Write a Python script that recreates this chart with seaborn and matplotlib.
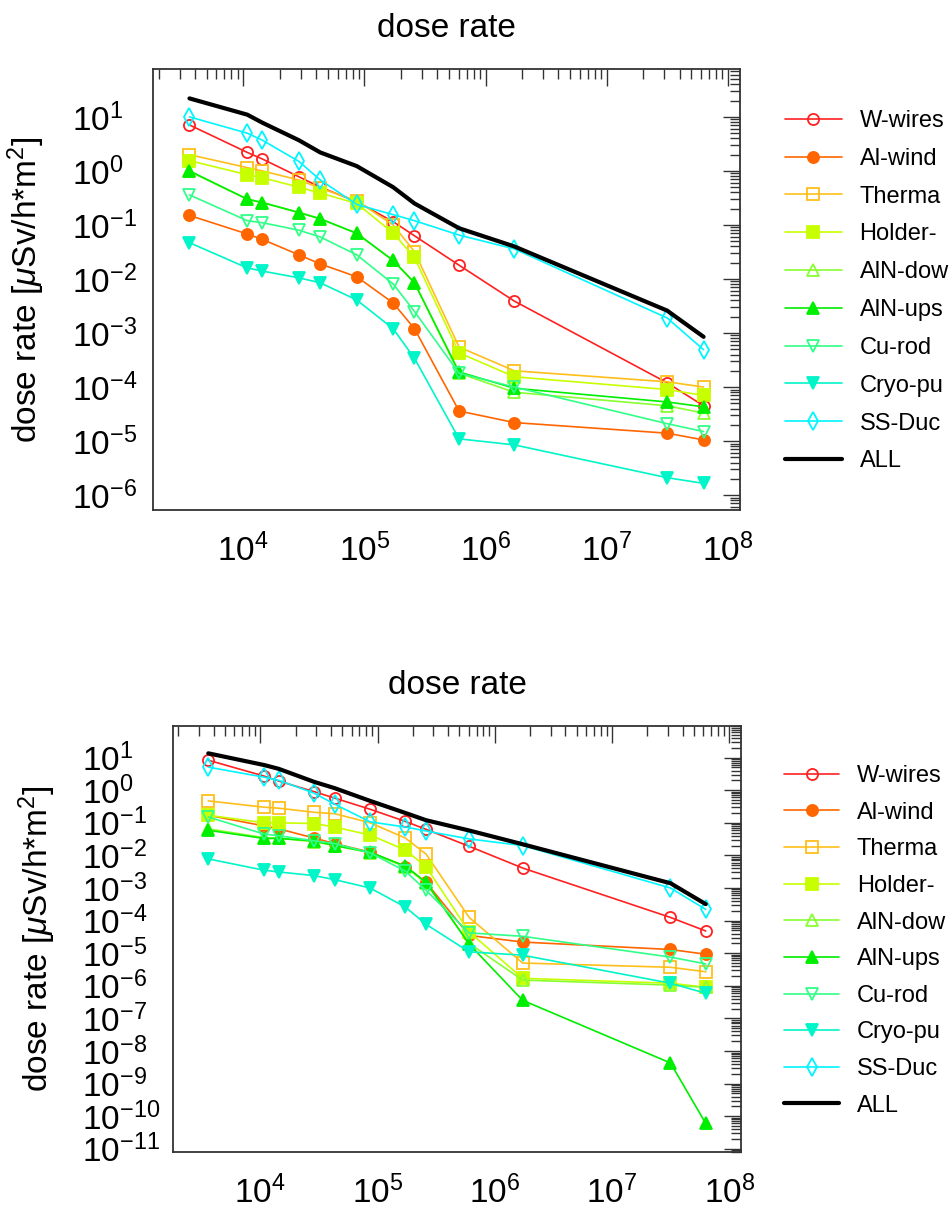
import numpy as np
import pandas as pd
import matplotlib
matplotlib.use("Agg")
import matplotlib.pyplot as plt
from matplotlib.ticker import LogLocator, LogFormatterSciNotation, NullFormatter
import seaborn as sns

sns.set_style("white")
plt.rcParams['font.family'] = ['Liberation Sans', 'DejaVu Sans']
plt.rcParams['mathtext.fontset'] = 'custom'
plt.rcParams['mathtext.rm'] = 'Liberation Sans'
plt.rcParams['mathtext.it'] = 'Liberation Sans:italic'
plt.rcParams['mathtext.default'] = 'regular'
plt.rcParams['text.color'] = 'black'
plt.rcParams['axes.labelcolor'] = 'black'
plt.rcParams['xtick.labelcolor'] = 'black'
plt.rcParams['ytick.labelcolor'] = 'black'

# ---------------- data ----------------
cooling_time = [3600, 10800, 14400, 28800, 43200, 86400, 172800, 259200,
                604800, 1728000, 31536000, 63072000]

labels = ["W-wires", "Al-wind", "Therma", "Holder-", "AlN-dow", "AlN-ups",
          "Cu-rod", "Cryo-pu", "SS-Duc", "ALL"]

x_decades = [1e4, 1e5, 1e6, 1e7, 1e8]
top_y_decades = [1e-6, 1e-5, 1e-4, 1e-3, 1e-2, 1e-1, 1e0, 1e1]
bot_y_decades = [1e-11, 1e-10, 1e-9, 1e-8, 1e-7, 1e-6, 1e-5, 1e-4, 1e-3,
                 1e-2, 1e-1, 1e0, 1e1]

top_w_wires = [7.1, 2.2, 1.66, 0.78, 0.5, 0.27, 0.115, 0.063, 0.018, 0.0039, 1.2e-4, 4.5e-5]
top_al_window = [0.15, 0.068, 0.054, 0.028, 0.019, 0.011, 0.0036, 0.0012, 3.6e-5, 2.2e-5, 1.4e-5, 1.05e-5]
top_thermal = [2.0, 1.15, 1.0, 0.68, 0.48, 0.28, 0.1, 0.032, 5.5e-4, 2.0e-4, 1.25e-4, 1.0e-4]
top_holder = [1.55, 0.85, 0.75, 0.5, 0.39, 0.25, 0.071, 0.025, 4.3e-4, 1.55e-4, 9e-5, 7e-5]
top_aln_down = [0.98, 0.3, 0.26, 0.17, 0.13, 0.07, 0.022, 0.0085, 1.8e-4, 8e-5, 4.5e-5, 3.3e-5]
top_aln_up = [1.0, 0.3, 0.26, 0.17, 0.13, 0.07, 0.022, 0.0085, 1.9e-4, 9.5e-5, 5.3e-5, 4.3e-5]
top_cu_rod = [0.36, 0.12, 0.11, 0.08, 0.06, 0.028, 0.0081, 0.0025, 1.8e-4, 1.0e-4, 2.1e-5, 1.5e-5]
top_cryo = [0.047, 0.016, 0.014, 0.0105, 0.0085, 0.0041, 0.0012, 3.4e-4, 1.1e-5, 8.5e-6, 2.1e-6, 1.65e-6]
top_ss_duct = [10, 5, 3.7, 1.5, 0.68, 0.24, 0.155, 0.12, 0.065, 0.036, 1.9e-3, 4.9e-4]
top_all = [22, 11, 7.8, 3.7, 2.2, 1.23, 0.5, 0.25, 0.087, 0.04, 2.6e-3, 8.5e-4]

bot_w_wires = [8.3, 2.7, 1.9, 0.9, 0.57, 0.26, 0.11, 0.063, 0.019, 0.0041, 1.25e-4, 4.8e-5]
bot_al_window = [0.17, 0.08, 0.065, 0.034, 0.023, 0.0126, 0.0045, 0.0015, 3.5e-5, 2.2e-5, 1.3e-5, 9.3e-6]
bot_thermal = [0.47, 0.3, 0.28, 0.21, 0.19, 0.1, 0.034, 0.011, 1.25e-4, 5e-6, 3.7e-6, 2.7e-6]
bot_holder = [0.17, 0.10, 0.10, 0.095, 0.074, 0.042, 0.0146, 0.0045, 4.5e-5, 1.7e-6, 1.2e-6, 9e-7]
bot_aln_down = [0.065, 0.035, 0.034, 0.026, 0.02, 0.012, 0.0045, 0.0014, 2e-5, 1.5e-6, 1.05e-6, 9e-7]
bot_aln_up = [0.059, 0.033, 0.033, 0.028, 0.02, 0.0125, 0.0047, 0.0015, 1.9e-5, 3.6e-7, 4.3e-9, 6e-11]
bot_cu_rod = [0.15, 0.045, 0.04, 0.028, 0.023, 0.012, 0.0033, 8.5e-4, 4.2e-5, 3.3e-5, 7.6e-6, 4.7e-6]
bot_cryo = [0.0078, 0.0035, 0.0031, 0.0024, 0.0018, 0.001, 2.6e-4, 7.7e-5, 1.1e-5, 8.7e-6, 1.2e-6, 5.9e-7]
bot_ss_duct = [5.1, 2.5, 2.0, 0.81, 0.37, 0.107, 0.074, 0.056, 0.032, 0.02, 1.0e-3, 2.2e-4]
bot_all = [13.5, 5.9, 4.5, 1.8, 1.15, 0.47, 0.2, 0.12, 0.058, 0.022, 1.4e-3, 3.2e-4]

top_series = [top_w_wires, top_al_window, top_thermal, top_holder, top_aln_down,
              top_aln_up, top_cu_rod, top_cryo, top_ss_duct, top_all]
bot_series = [bot_w_wires, bot_al_window, bot_thermal, bot_holder, bot_aln_down,
              bot_aln_up, bot_cu_rod, bot_cryo, bot_ss_duct, bot_all]

# ---------------- styles ----------------
colors = ['#ff2020', '#ff6600', '#ffbf1a', '#c8ff00', '#88ff30', '#00ee00',
          '#30ff88', '#00f5c8', '#00f5ff', '#000000']
markers = ['o', 'o', 's', 's', '^', '^', 'v', 'v', 'd', None]
filled = [False, True, False, True, False, True, False, True, False, True]

fig = plt.figure(figsize=(9.49, 12.13), dpi=100)
W, H = 949, 1213


def fig_rect(l, t, r, b):
    return [l / W, 1 - b / H, (r - l) / W, (b - t) / H]


panels = [
    dict(rect=fig_rect(153, 69, 740, 510), series=top_series, ylim=(5.3e-7, 77),
         yticks=top_y_decades, ypad=58, ylab_x=-0.180, leg=(785, 110),
         lspace=0.67, hlen=2.4),
    dict(rect=fig_rect(173, 726, 741, 1152), series=bot_series, ylim=(8e-12, 93),
         yticks=bot_y_decades, ypad=65.5, ylab_x=-0.203, leg=(784, 765),
         lspace=0.62, hlen=2.33),
]

axes = []
for p in panels:
    ax = fig.add_axes(p['rect'])
    axes.append(ax)
    ax.set_xscale('log')
    ax.set_yscale('log')
    for i, (lab, vals) in enumerate(zip(labels, p['series'])):
        df = pd.DataFrame({'t': cooling_time, 'v': vals})
        is_all = lab == 'ALL'
        kw = dict(color=colors[i], linewidth=3.0 if is_all else 1.2,
                  zorder=10 if is_all else 3 + i * 0.1)
        if markers[i] is not None:
            kw.update(marker=markers[i], markersize=8 if markers[i] != 'd' else 9,
                      markeredgewidth=1.3, markeredgecolor=colors[i],
                      markerfacecolor=colors[i] if filled[i] else 'none')
        sns.lineplot(data=df, x='t', y='v', ax=ax, sort=False, estimator=None,
                     label=lab, legend=False, **kw)
    ax.set_xlabel('')
    ax.set_ylabel(r'dose rate [$\mathit{\mu}$Sv/h*m$^{2}$]', fontsize=24)
    ax.yaxis.set_label_coords(p['ylab_x'], 0.5)
    ax.set_title('dose rate', fontsize=24, pad=23)

    ax.set_xticks(x_decades)
    ax.set_yticks(p['yticks'])
    ax.xaxis.set_minor_locator(LogLocator(base=10, subs=np.arange(2, 10), numticks=20))
    ax.yaxis.set_minor_locator(LogLocator(base=10, subs=np.arange(2, 10), numticks=30))
    ax.xaxis.set_major_formatter(LogFormatterSciNotation())
    ax.yaxis.set_major_formatter(LogFormatterSciNotation())
    ax.xaxis.set_minor_formatter(NullFormatter())
    ax.yaxis.set_minor_formatter(NullFormatter())
    ax.set_xlim(1.8e3, 1.26e8)
    ax.set_ylim(*p['ylim'])

    ax.tick_params(which='both', direction='in', top=True, right=True,
                   color='#333333', width=1.0)
    ax.tick_params(which='major', length=12.5, labelsize=24)
    ax.tick_params(which='minor', length=7)
    ax.tick_params(axis='x', which='major', pad=17)
    ax.tick_params(axis='y', which='major', pad=p['ypad'])
    for s in ax.spines.values():
        s.set_color('#333333')
        s.set_linewidth(1.3)

    lx, ly = p['leg']
    ax.legend(loc='upper left', bbox_to_anchor=(lx / W, 1 - ly / H),
              bbox_transform=fig.transFigure, frameon=False, fontsize=17,
              borderpad=0, borderaxespad=0, handlelength=p['hlen'],
              handletextpad=0.76, labelspacing=p['lspace'], numpoints=1,
              labelcolor='black')

fig.canvas.draw()
for ax in axes:
    for t in ax.yaxis.get_major_ticks():
        t.label1.set_horizontalalignment('left')

fig.savefig('out.png', dpi=100)
